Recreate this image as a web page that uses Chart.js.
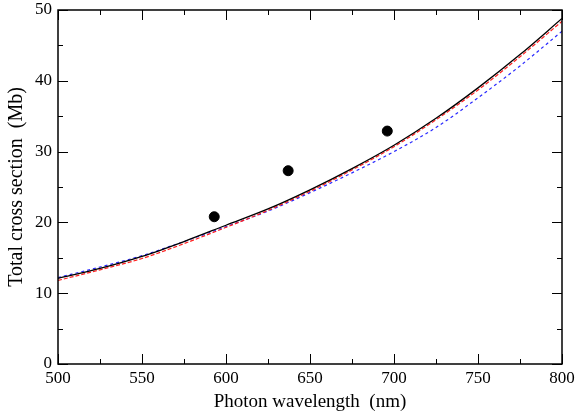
<!DOCTYPE html>
<html>
<head>
<meta charset="utf-8">
<script src="https://cdn.jsdelivr.net/npm/chart.js@4.4.1/dist/chart.umd.min.js"></script>
<style>
  html, body { margin: 0; padding: 0; background: #fff; }
  #wrap { width: 579px; height: 413px; position: relative; }
</style>
</head>
<body>
<div id="wrap"><canvas id="chart"></canvas></div>
<script>
// wavelength grid (nm)
const wavelengths = [500, 525, 550, 575, 600, 625, 650, 675, 700, 725, 750, 775, 800];

// theory curves (Mb)
const blackCurve = [12.1, 13.5, 15.2, 17.3, 19.6, 21.9, 24.6, 27.6, 30.9, 34.7, 39.0, 43.7, 48.8];
const redCurve   = [11.8, 13.3, 14.9, 17.0, 19.3, 21.7, 24.4, 27.4, 30.7, 34.5, 38.7, 43.4, 48.4];
const blueCurve  = [12.2, 13.7, 15.3, 17.3, 19.4, 21.6, 24.2, 27.0, 30.0, 33.4, 37.6, 42.1, 47.0];

// experimental points
const expX = [593, 637, 696];
const expY = [20.8, 27.3, 32.9];

const xTicks = [500, 550, 600, 650, 700, 750, 800];
const yTicks = [0, 10, 20, 30, 40, 50];

const FONT = '"Liberation Serif", "Times New Roman", serif';

const toXY = (xs, ys) => xs.map((x, i) => ({ x: x, y: ys[i] }));

// draws inward ticks on all four sides plus the frame
const frameTicks = {
    id: 'frameTicks',
    afterDraw(chart) {
        const { ctx, chartArea: a, scales } = chart;
        const xs = scales.x, ys = scales.y;
        ctx.save();
        ctx.strokeStyle = '#000';
        ctx.lineWidth = 1.5;
        ctx.strokeRect(a.left, a.top, a.right - a.left, a.bottom - a.top);
        ctx.lineWidth = 1;
        for (let v = 500; v <= 800; v += 25) {
            const len = v % 50 === 0 ? 10 : 5;
            const px = Math.round(xs.getPixelForValue(v)) + 0.5;
            ctx.beginPath();
            ctx.moveTo(px, a.bottom); ctx.lineTo(px, a.bottom - len);
            ctx.moveTo(px, a.top); ctx.lineTo(px, a.top + len);
            ctx.stroke();
        }
        for (let v = 0; v <= 50; v += 5) {
            const len = v % 10 === 0 ? 10 : 5;
            const py = Math.round(ys.getPixelForValue(v)) + 0.5;
            ctx.beginPath();
            ctx.moveTo(a.left, py); ctx.lineTo(a.left + len, py);
            ctx.moveTo(a.right, py); ctx.lineTo(a.right - len, py);
            ctx.stroke();
        }
        ctx.restore();
    }
};

new Chart(document.getElementById('chart'), {
    type: 'scatter',
    data: {
        datasets: [
            {
                data: toXY(wavelengths, blueCurve),
                showLine: true, borderColor: '#2a2aff', borderWidth: 1.2,
                borderDash: [3, 3], pointRadius: 0, cubicInterpolationMode: 'monotone', order: 3
            },
            {
                data: toXY(wavelengths, redCurve),
                showLine: true, borderColor: '#ff2020', borderWidth: 1.2,
                borderDash: [4, 2], pointRadius: 0, cubicInterpolationMode: 'monotone', order: 2
            },
            {
                data: toXY(wavelengths, blackCurve),
                showLine: true, borderColor: '#000', borderWidth: 1.3,
                pointRadius: 0, cubicInterpolationMode: 'monotone', order: 1
            },
            {
                data: toXY(expX, expY),
                showLine: false, pointRadius: 5, pointBackgroundColor: '#000',
                pointBorderColor: '#000', order: 0
            }
        ]
    },
    options: {
        responsive: true,
        maintainAspectRatio: false,
        animation: false,
        layout: { padding: { top: 10, right: 17, left: 5, bottom: 0 } },
        plugins: { legend: { display: false }, tooltip: { enabled: false } },
        scales: {
            x: {
                type: 'linear', min: 500, max: 800,
                afterBuildTicks: s => { s.ticks = xTicks.map(v => ({ value: v })); },
                afterFit: s => { s.height = 49; s.paddingLeft = 0; s.paddingRight = 0; },
                grid: { display: false, drawTicks: false },
                border: { display: false },
                ticks: { color: '#000', padding: 4, maxRotation: 0, font: { family: FONT, size: 17 } },
                title: {
                    display: true, text: 'Photon wavelength  (nm)', color: '#000',
                    font: { family: FONT, size: 19 }, padding: { top: 2, bottom: 0 }
                }
            },
            y: {
                min: 0, max: 50,
                afterBuildTicks: s => { s.ticks = yTicks.map(v => ({ value: v })); },
                afterFit: s => { s.width = 53; s.paddingTop = 0; s.paddingBottom = 0; },
                grid: { display: false, drawTicks: false },
                border: { display: false },
                ticks: { color: '#000', padding: 6, font: { family: FONT, size: 17 } },
                title: {
                    display: true, text: 'Total cross section  (Mb)', color: '#000',
                    font: { family: FONT, size: 20 }, padding: { top: 0, bottom: 0 }
                }
            }
        }
    },
    plugins: [frameTicks]
});
</script>
</body>
</html>
